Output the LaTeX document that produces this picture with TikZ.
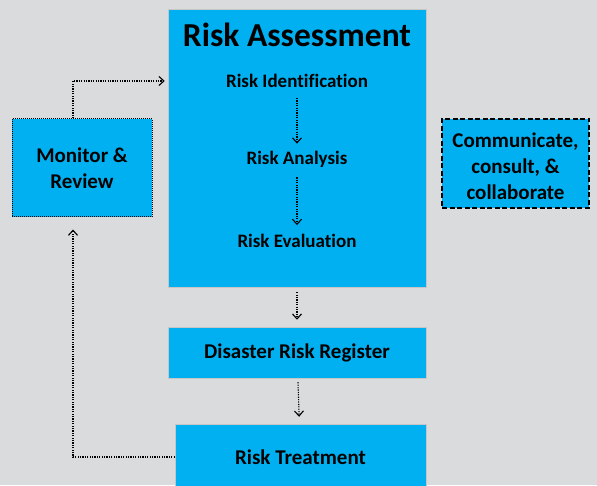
\documentclass[tikz,border=0pt]{standalone}
\usepackage{fontspec}
\setmainfont[Ligatures=NoCommon]{Carlito}
\usetikzlibrary{arrows.meta,positioning}
\usepackage{xcolor}
\definecolor{boxblue}{RGB}{0,176,240}
\definecolor{backgrey}{RGB}{218,219,221}

\begin{document}
\begin{tikzpicture}[
        x=1pt, y=1pt,
        box/.style={
            rectangle,
            fill=boxblue,
            draw=gray!45,
            line width=0.5pt,
            inner sep=0pt,
            align=center,
            font=\bfseries\fontsize{21}{26}\selectfont
        },
        item/.style={
            inner sep=0pt,
            font=\bfseries\fontsize{19}{22}\selectfont
        },
        flow/.style={
            -{Straight Barb[length=5pt,width=9pt]},
            line width=1.1pt,
            dash pattern=on 1.2pt off 1.2pt
        }
    ]
        \useasboundingbox (0,0) rectangle (597,485);
        \clip (0,0) rectangle (597,485);
        \fill[backgrey] (0,0) rectangle (597,485);

        \node (assess) [
            box,
            minimum width=258pt,
            minimum height=278pt
        ] at (297,337) {};

        \node (title) [
            item,
            font=\bfseries\fontsize{33.5}{38}\selectfont
        ] at (297,450) {Risk Assessment};
        \node (ident) [item] at (297,404) {Risk Identification};
        \node (analysis) [item] at (297,326) {Risk Analysis};
        \node (eval) [item] at (297,244) {Risk Evaluation};

        \node (register) [
            box,
            minimum width=258pt,
            minimum height=51pt
        ] at (297,132.5) {Disaster Risk Register};

        \node (treat) [
            box,
            minimum width=251pt,
            minimum height=66pt
        ] at (300.5,28) {Risk Treatment};

        \node (monitor) [
            box,
            draw=black,
            line width=1pt,
            dash pattern=on 1pt off 1pt,
            minimum width=140pt,
            minimum height=98pt
        ] at (82,317) {\raisebox{-2pt}[\height][\depth]{\begin{tabular}{@{}c@{}}Monitor \&\\Review\end{tabular}}};

        \node (comm) [
            box,
            draw=black,
            line width=1.5pt,
            dash pattern=on 5pt off 2.5pt,
            minimum width=147pt,
            minimum height=89pt
        ] at (515.5,321.5) {\raisebox{-5pt}[\height][\depth]{\begin{tabular}{@{}c@{}}Communicate,\\consult, \&\\collaborate\end{tabular}}};

        \coordinate (loop) at (73,28);

        \draw[flow, shorten <=10pt, shorten >=7pt] (ident) to (analysis);
        \draw[flow, shorten <=10pt, shorten >=9pt] (analysis) to (eval);
        \draw[flow, shorten <=5pt, shorten >=7pt] (assess) to (register);
        \draw[flow, shorten <=4pt, shorten >=7pt] (register) to (treat);
        \draw[flow, shorten >=3pt] (loop |- monitor.north) |- (assess.west |- ident);
        \draw[flow, shorten >=12pt] (treat.west) -- (loop) -- (loop |- monitor.south);
    \end{tikzpicture}
\end{document}
